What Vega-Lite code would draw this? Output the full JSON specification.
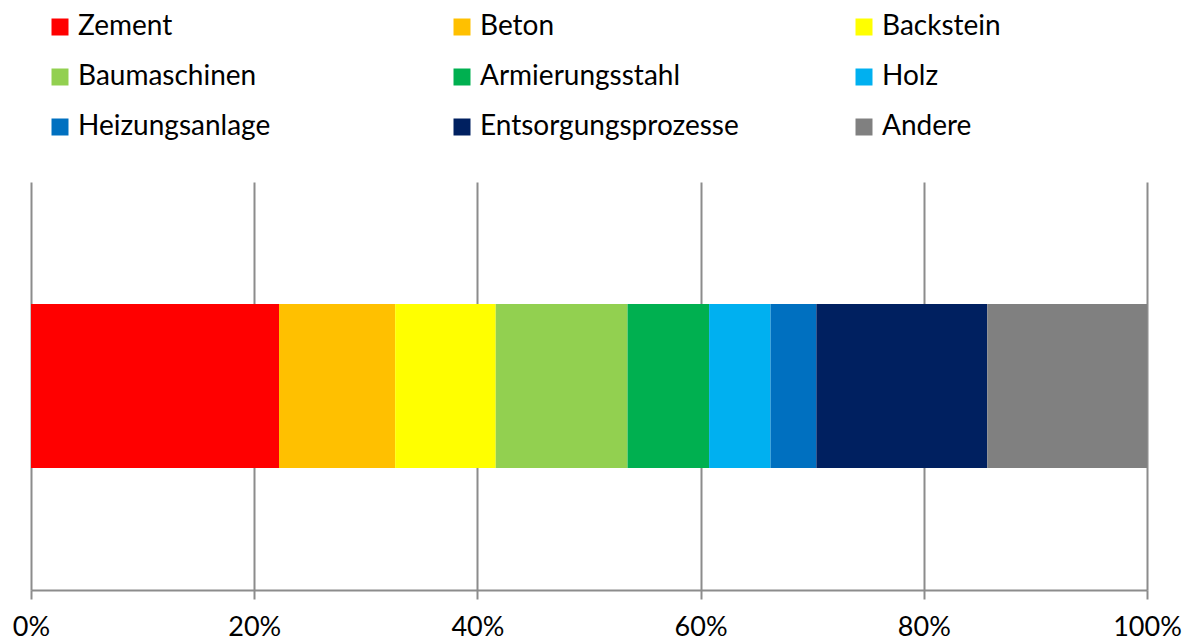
{
  "$schema": "https://vega.github.io/schema/vega-lite/v6.json",
  "width": 1116,
  "height": 408,
  "autosize": {"type": "none"},
  "padding": {"left": 31, "top": 182, "right": 37, "bottom": 51},
  "background": "white",
  "config": {
    "font": "Lato",
    "view": {"stroke": null}
  },
  "data": {
    "values": [
      {"kategorie": "Zement", "anteil": 22.2, "ord": 1},
      {"kategorie": "Beton", "anteil": 10.4, "ord": 2},
      {"kategorie": "Backstein", "anteil": 9.0, "ord": 3},
      {"kategorie": "Baumaschinen", "anteil": 11.8, "ord": 4},
      {"kategorie": "Armierungsstahl", "anteil": 7.3, "ord": 5},
      {"kategorie": "Holz", "anteil": 5.5, "ord": 6},
      {"kategorie": "Heizungsanlage", "anteil": 4.1, "ord": 7},
      {"kategorie": "Entsorgungsprozesse", "anteil": 15.3, "ord": 8},
      {"kategorie": "Andere", "anteil": 14.3, "ord": 9}
    ]
  },
  "mark": {"type": "bar", "strokeWidth": 0},
  "encoding": {
    "y": {
      "field": "grp",
      "type": "nominal",
      "axis": null,
      "scale": {"paddingOuter": 0.744, "paddingInner": 0}
    },
    "x": {
      "field": "anteil",
      "type": "quantitative",
      "stack": "normalize",
      "scale": {"domain": [0, 1], "nice": false},
      "axis": {
        "title": null,
        "values": [0, 0.2, 0.4, 0.6, 0.8, 1],
        "format": ".0%",
        "grid": true,
        "gridColor": "#8c8c8c",
        "gridWidth": 2,
        "domainColor": "#8c8c8c",
        "domainWidth": 2,
        "tickColor": "#8c8c8c",
        "tickWidth": 2,
        "tickSize": 9,
        "labelFontSize": 27,
        "labelColor": "#000000",
        "labelPadding": 15,
        "labelFlush": false
      }
    },
    "order": {"field": "ord", "type": "quantitative"},
    "color": {
      "field": "kategorie",
      "type": "nominal",
      "scale": {
        "domain": ["Zement", "Beton", "Backstein", "Baumaschinen", "Armierungsstahl", "Holz", "Heizungsanlage", "Entsorgungsprozesse", "Andere"],
        "range": ["#FF0000", "#FFC000", "#FFFF00", "#92D050", "#00B050", "#00B0F0", "#0070C0", "#002060", "#808080"]
      },
      "legend": {
        "title": null,
        "orient": "none",
        "direction": "horizontal",
        "legendX": 15,
        "legendY": -169,
        "columns": 3,
        "gridAlign": "all",
        "columnPadding": 111,
        "rowPadding": 22,
        "symbolType": "square",
        "symbolSize": 289,
        "symbolStrokeWidth": 0,
        "symbolOpacity": 1,
        "labelFontSize": 28,
        "labelColor": "#000000",
        "labelOffset": 4,
        "labelLimit": 400,
        "padding": 0
      }
    }
  }
}
